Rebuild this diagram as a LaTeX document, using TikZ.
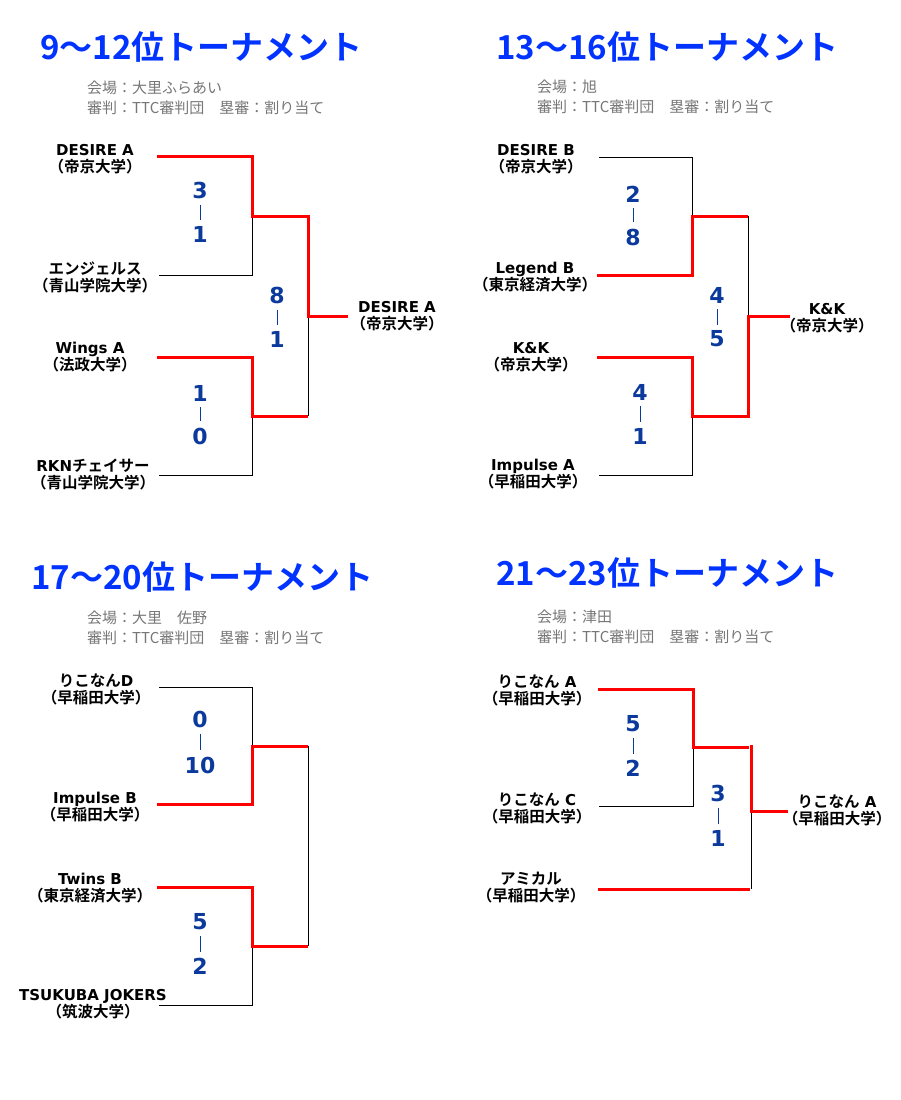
\documentclass[tikz,border=0pt]{standalone}
\usepackage{fontspec}
\setmainfont{DejaVu Sans}
\newfontfamily\jp{Noto Sans CJK JP}
\newfontfamily\jpb{Noto Sans CJK JP Bold}
\newfontfamily\lat{DejaVu Sans}
\newcommand\latb[1]{{\lat\bfseries #1}}
\newcommand\jpbf[1]{{\jpb\fontsize{15.5}{17}\selectfont #1}}
\definecolor{titleblue}{HTML}{0033FF}
\definecolor{scoreblue}{HTML}{0B3A9C}
\definecolor{subgray}{HTML}{777777}
\definecolor{winred}{HTML}{FF0000}
\tikzset{
 ttl/.style={anchor=west, inner sep=0, text=titleblue, font=\jpb\fontsize{33}{36}\selectfont},
 subttl/.style={anchor=west, inner sep=0, align=left, text=subgray, font=\jp\fontsize{15}{20}\selectfont},
 team/.style={inner sep=0, align=center, font=\fontsize{15}{17}\selectfont},
 score/.style={inner sep=0, text=scoreblue, font=\lat\bfseries\fontsize{22}{22}\selectfont},
 scoresep/.style={draw=scoreblue, line width=0.8pt, shorten >=6pt, shorten <=6pt},
 lose/.style={draw=black, line width=1pt},
 win/.style={draw=winred, line width=3pt},
}
\begin{document}
\begin{tikzpicture}[x=1pt, y=-1pt]
\useasboundingbox (0,0) rectangle (900,1100);
\fill[white] (0,0) rectangle (900,1100);

% ---------- Titles ----------
\node[ttl] (T1) at (40,47) {9〜12位トーナメント};
\node[ttl] (T2) at (496,47) {13〜16位トーナメント};
\node[ttl] (T3) at (31,577) {17〜20位トーナメント};
\node[ttl] (T4) at (496,573) {21〜23位トーナメント};

\node[subttl] (S1) at (87,98) {会場：大里ふらあい\\審判：TTC審判団　塁審：割り当て};
\node[subttl] (S2) at (537,97) {会場：旭\\審判：TTC審判団　塁審：割り当て};
\node[subttl] (S3) at (87,628) {会場：大里　佐野\\審判：TTC審判団　塁審：割り当て};
\node[subttl] (S4) at (537,627) {会場：津田\\審判：TTC審判団　塁審：割り当て};

% ---------- Quadrant 1 ----------
\node[team] (a1) at (95,159) {\latb{DESIRE A}\\\jpbf{（帝京大学）}};
\node[team] (a2) at (95,277) {\jpbf{エンジェルス}\\\jpbf{（青山学院大学）}};
\node[team] (a3) at (90,357) {\latb{Wings A}\\\jpbf{（法政大学）}};
\node[team] (a4) at (93,474) {\latb{RKN}\jpbf{チェイサー}\\\jpbf{（青山学院大学）}};
\node[team] (aw) at (397,316) {\latb{DESIRE A}\\\jpbf{（帝京大学）}};

\draw[lose] (159,275) -- (252,275) -- (252,216);
\draw[lose] (159,475) -- (252,475) -- (252,416);
\draw[lose] (308,316) -- (308,416);
\draw[win] (157,156) -- (252,156) -- (252,216) -- (308,216) -- (308,316) -- (348,316);
\draw[win] (157,357) -- (252,357) -- (252,416) -- (308,416);

\node[score] (a11) at (200,190) {3};
\node[score] (a12) at (200,234) {1};
\draw[scoresep] (a11.south) -- (a12.north);
\node[score] (a21) at (277,295) {8};
\node[score] (a22) at (277,339) {1};
\draw[scoresep] (a21.south) -- (a22.north);
\node[score] (a31) at (200,393) {1};
\node[score] (a32) at (200,436) {0};
\draw[scoresep] (a31.south) -- (a32.north);

% ---------- Quadrant 2 ----------
\node[team] (b1) at (536,159) {\latb{DESIRE B}\\\jpbf{（帝京大学）}};
\node[team] (b2) at (535,277) {\latb{Legend B}\\\jpbf{（東京経済大学）}};
\node[team] (b3) at (531,357) {\latb{K\&K}\\\jpbf{（帝京大学）}};
\node[team] (b4) at (533,474) {\latb{Impulse A}\\\jpbf{（早稲田大学）}};
\node[team] (bw) at (827,318) {\latb{K\&K}\\\jpbf{（帝京大学）}};

\draw[lose] (599,157) -- (692,157) -- (692,216);
\draw[lose] (599,475) -- (692,475) -- (692,416);
\draw[lose] (748,216) -- (748,316);
\draw[win] (597,275) -- (692,275) -- (692,216) -- (748,216);
\draw[win] (597,357) -- (692,357) -- (692,416) -- (748,416) -- (748,316) -- (790,316);

\node[score] (b11) at (633,194) {2};
\node[score] (b12) at (633,237) {8};
\draw[scoresep] (b11.south) -- (b12.north);
\node[score] (b21) at (717,295) {4};
\node[score] (b22) at (717,339) {5};
\draw[scoresep] (b21.south) -- (b22.north);
\node[score] (b31) at (640,392) {4};
\node[score] (b32) at (640,436) {1};
\draw[scoresep] (b31.south) -- (b32.north);

% ---------- Quadrant 3 ----------
\node[team] (c1) at (96,689) {\jpbf{りこなん}\latb{D}\\\jpbf{（早稲田大学）}};
\node[team] (c2) at (95,807) {\latb{Impulse B}\\\jpbf{（早稲田大学）}};
\node[team] (c3) at (90,888) {\latb{Twins B}\\\jpbf{（東京経済大学）}};
\node[team] (c4) at (93,1004) {\latb{TSUKUBA JOKERS}\\\jpbf{（筑波大学）}};

\draw[lose] (159,687) -- (252,687) -- (252,746);
\draw[lose] (159,1005) -- (252,1005) -- (252,946);
\draw[lose] (308,746) -- (308,946);
\draw[win] (157,804) -- (252,804) -- (252,746) -- (308,746);
\draw[win] (157,887) -- (252,887) -- (252,946) -- (308,946);

\node[score] (c11) at (200,719) {0};
\node[score] (c12) at (200,765) {10};
\draw[scoresep] (c11.south) -- (c12.north);
\node[score] (c31) at (200,922) {5};
\node[score] (c32) at (200,966) {2};
\draw[scoresep] (c31.south) -- (c32.north);

% ---------- Quadrant 4 ----------
\node[team] (d1) at (537,690) {\jpbf{りこなん}\latb{ A}\\\jpbf{（早稲田大学）}};
\node[team] (d2) at (537,808) {\jpbf{りこなん}\latb{ C}\\\jpbf{（早稲田大学）}};
\node[team] (d3) at (531,888) {\jpbf{アミカル}\\\jpbf{（早稲田大学）}};
\node[team] (dw) at (837,810) {\jpbf{りこなん}\latb{ A}\\\jpbf{（早稲田大学）}};

\draw[lose] (599,806) -- (693,806) -- (693,747);
\draw[lose] (751,811) -- (751,889);
\draw[win] (598,689) -- (693,689) -- (693,747) -- (749,747);
\draw[win] (751,745) -- (751,811) -- (788,811);
\draw[win] (598,889) -- (750,889);

\node[score] (d11) at (633,724) {5};
\node[score] (d12) at (633,768) {2};
\draw[scoresep] (d11.south) -- (d12.north);
\node[score] (d21) at (718,793) {3};
\node[score] (d22) at (718,838) {1};
\draw[scoresep] (d21.south) -- (d22.north);
\end{tikzpicture}
\end{document}
